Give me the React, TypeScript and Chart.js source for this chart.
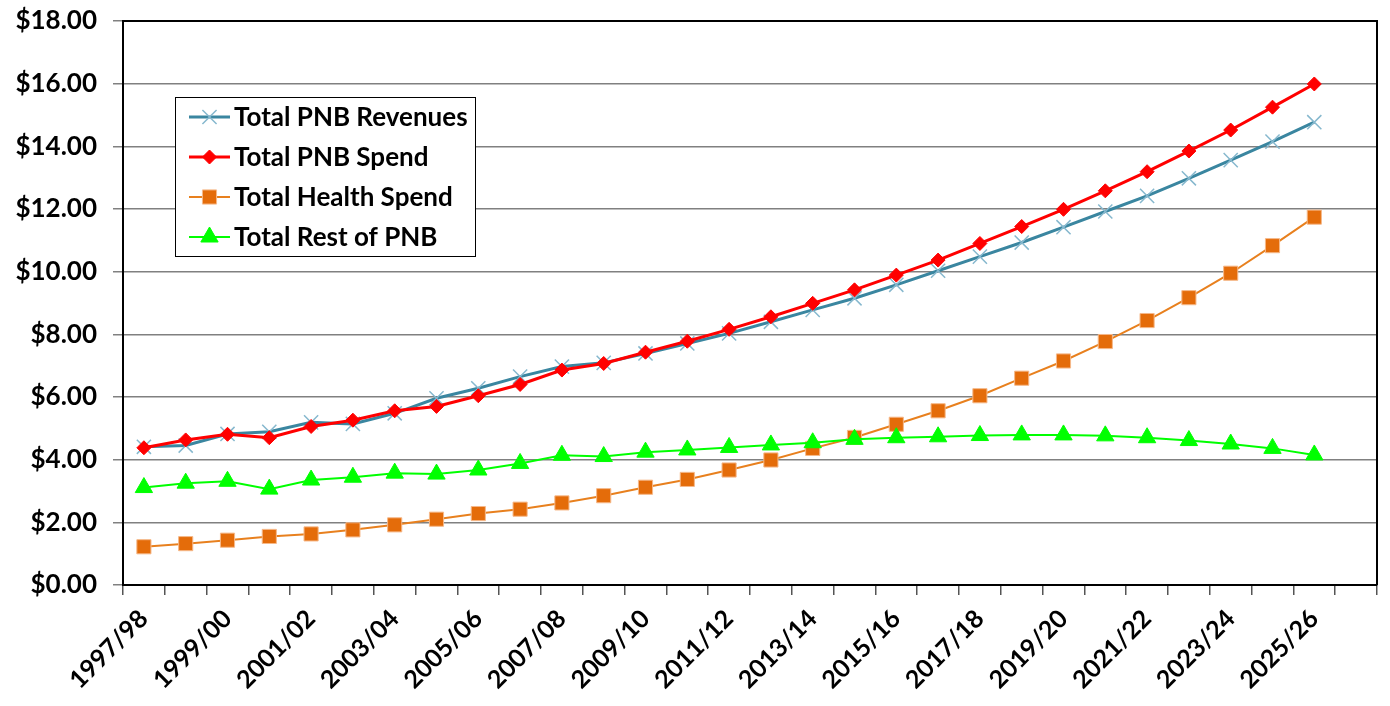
import React, { useEffect, useRef } from 'react';
import { Chart, registerables } from 'chart.js';
import { drawPoint } from 'chart.js/helpers';

Chart.register(...registerables);

const categories = [
  '1997/98', '1998/99', '1999/00', '2000/01', '2001/02', '2002/03', '2003/04', '2004/05',
  '2005/06', '2006/07', '2007/08', '2008/09', '2009/10', '2010/11', '2011/12', '2012/13',
  '2013/14', '2014/15', '2015/16', '2016/17', '2017/18', '2018/19', '2019/20', '2020/21',
  '2021/22', '2022/23', '2023/24', '2024/25', '2025/26', '2026/27',
];

const totalPnbRevenues = [
  4.41, 4.45, 4.82, 4.89, 5.19, 5.14, 5.48, 5.96, 6.28, 6.65, 6.97, 7.09, 7.39, 7.71, 8.03,
  8.40, 8.78, 9.15, 9.58, 10.03, 10.48, 10.93, 11.42, 11.92, 12.42, 12.98, 13.56, 14.15, 14.77, null,
];

const totalPnbSpend = [
  4.38, 4.63, 4.81, 4.70, 5.06, 5.26, 5.56, 5.70, 6.04, 6.40, 6.86, 7.07, 7.43, 7.78, 8.16,
  8.56, 8.99, 9.42, 9.89, 10.37, 10.90, 11.44, 11.99, 12.58, 13.19, 13.85, 14.52, 15.25, 15.99, null,
];

const totalHealthSpend = [
  1.22, 1.32, 1.43, 1.55, 1.63, 1.76, 1.92, 2.10, 2.28, 2.42, 2.62, 2.85, 3.12, 3.37, 3.67,
  3.99, 4.36, 4.71, 5.13, 5.56, 6.04, 6.60, 7.15, 7.77, 8.44, 9.17, 9.95, 10.83, 11.74, null,
];

const totalRestOfPnb = [
  3.11, 3.25, 3.31, 3.06, 3.35, 3.44, 3.57, 3.54, 3.67, 3.88, 4.14, 4.10, 4.24, 4.31, 4.39,
  4.47, 4.54, 4.65, 4.70, 4.73, 4.77, 4.79, 4.79, 4.76, 4.70, 4.61, 4.50, 4.36, 4.15, null,
];

const seriesNames = ['Total PNB Revenues', 'Total PNB Spend', 'Total Health Spend', 'Total Rest of PNB'];

const yTicks = { min: 0, max: 18, step: 2 };

const FONT_FAMILY = 'Lato, "DejaVu Sans", sans-serif';

const frameAndLegend = {
  id: 'frameAndLegend',
  afterDraw(chart: any) {
    const ctx = chart.ctx as CanvasRenderingContext2D;
    const a = chart.chartArea;
    ctx.save();
    ctx.strokeStyle = '#000';
    ctx.lineWidth = 2;
    ctx.beginPath();
    ctx.moveTo(a.left, a.top);
    ctx.lineTo(a.right, a.top);
    ctx.lineTo(a.right, a.bottom);
    ctx.stroke();

    const bx = 175, by = 97, bw = 300, bh = 159;
    ctx.fillStyle = '#fff';
    ctx.fillRect(bx, by, bw, bh);
    ctx.lineWidth = 1;
    ctx.strokeStyle = '#000';
    ctx.strokeRect(bx + 0.5, by + 0.5, bw, bh);

    const rowY = [117, 157, 197, 237];
    ctx.font = `bold 26px ${FONT_FAMILY}`;
    ctx.textBaseline = 'middle';
    ctx.textAlign = 'left';
    chart.data.datasets.forEach((ds: any, i: number) => {
      const y = rowY[i];
      ctx.strokeStyle = ds.borderColor;
      ctx.lineWidth = ds.borderWidth;
      ctx.beginPath();
      ctx.moveTo(189, y);
      ctx.lineTo(230, y);
      ctx.stroke();
      ctx.fillStyle = ds.pointBackgroundColor;
      ctx.strokeStyle = ds.pointBorderColor;
      ctx.lineWidth = ds.pointBorderWidth;
      drawPoint(ctx, { pointStyle: ds.pointStyle, rotation: 0, borderWidth: ds.pointBorderWidth, radius: ds.pointRadius }, 209.5, y);
      ctx.fillStyle = '#000';
      ctx.fillText(ds.label, 234, y + 1);
    });
    ctx.restore();
  },
};

export default function App() {
  const ref = useRef<HTMLCanvasElement>(null);
  useEffect(() => {
    document.body.style.margin = '0';
    const canvas = ref.current!;
    const chart = new Chart(canvas, {
      type: 'line',
      data: {
        labels: categories,
        datasets: [
          {
            label: seriesNames[0],
            data: totalPnbRevenues,
            borderColor: '#3A86A0',
            borderWidth: 3,
            pointStyle: 'crossRot',
            pointRadius: 10,
            pointBorderColor: '#86B8CE',
            pointBackgroundColor: '#86B8CE',
            pointBorderWidth: 1.5,
            order: 3,
          },
          {
            label: seriesNames[1],
            data: totalPnbSpend,
            borderColor: '#FF0000',
            borderWidth: 3,
            pointStyle: 'rectRot',
            pointRadius: 7,
            pointBorderColor: '#FF0000',
            pointBackgroundColor: '#FF0000',
            pointBorderWidth: 1,
            order: 2,
          },
          {
            label: seriesNames[2],
            data: totalHealthSpend,
            borderColor: '#E8801E',
            borderWidth: 2,
            pointStyle: 'rect',
            pointRadius: 10,
            pointBorderColor: '#F6B98A',
            pointBackgroundColor: '#E46C0A',
            pointBorderWidth: 1,
            order: 1,
          },
          {
            label: seriesNames[3],
            data: totalRestOfPnb,
            borderColor: '#00FF00',
            borderWidth: 2,
            pointStyle: 'triangle',
            pointRadius: 10,
            pointBorderColor: '#00FF00',
            pointBackgroundColor: '#00FF00',
            pointBorderWidth: 1,
            order: 0,
          },
        ],
      },
      options: {
        responsive: false,
        animation: false,
        events: [],
        layout: { padding: { left: 0, top: 21, right: 13, bottom: 0 } },
        plugins: { legend: { display: false }, tooltip: { enabled: false } },
        elements: { line: { tension: 0 } },
        scales: {
          x: {
            type: 'category',
            offset: true,
            grid: {
              offset: true,
              drawOnChartArea: false,
              drawTicks: true,
              tickLength: 10,
              color: '#555',
              lineWidth: 1.5,
            },
            border: { color: '#000', width: 2 },
            ticks: {
              autoSkip: false,
              minRotation: 45,
              maxRotation: 45,
              padding: 9,
              color: '#000',
              font: { family: FONT_FAMILY, size: 25, weight: 'bold' },
              callback: (_v: any, i: number) => (i % 2 === 0 ? categories[i] : ''),
            },
            afterFit: (s: any) => { s.height = 121; s.paddingLeft = 0; s.paddingRight = 0; },
          },
          y: {
            min: yTicks.min,
            max: yTicks.max,
            grid: { color: '#808080', lineWidth: 1.5, tickLength: 10 },
            border: { color: '#000', width: 2 },
            ticks: {
              stepSize: yTicks.step,
              padding: 16,
              color: '#000',
              font: { family: FONT_FAMILY, size: 26, weight: 'bold' },
              callback: (v: any) => '$' + Number(v).toFixed(2),
            },
            afterFit: (s: any) => { s.width = 123; s.paddingTop = 0; s.paddingBottom = 0; },
          },
        },
      },
      plugins: [frameAndLegend],
    });
    return () => chart.destroy();
  }, []);
  return (
    <div style={{ width: 1390, height: 706 }}>
      <canvas ref={ref} width={1390} height={706} style={{ display: 'block' }} />
    </div>
  );
}
